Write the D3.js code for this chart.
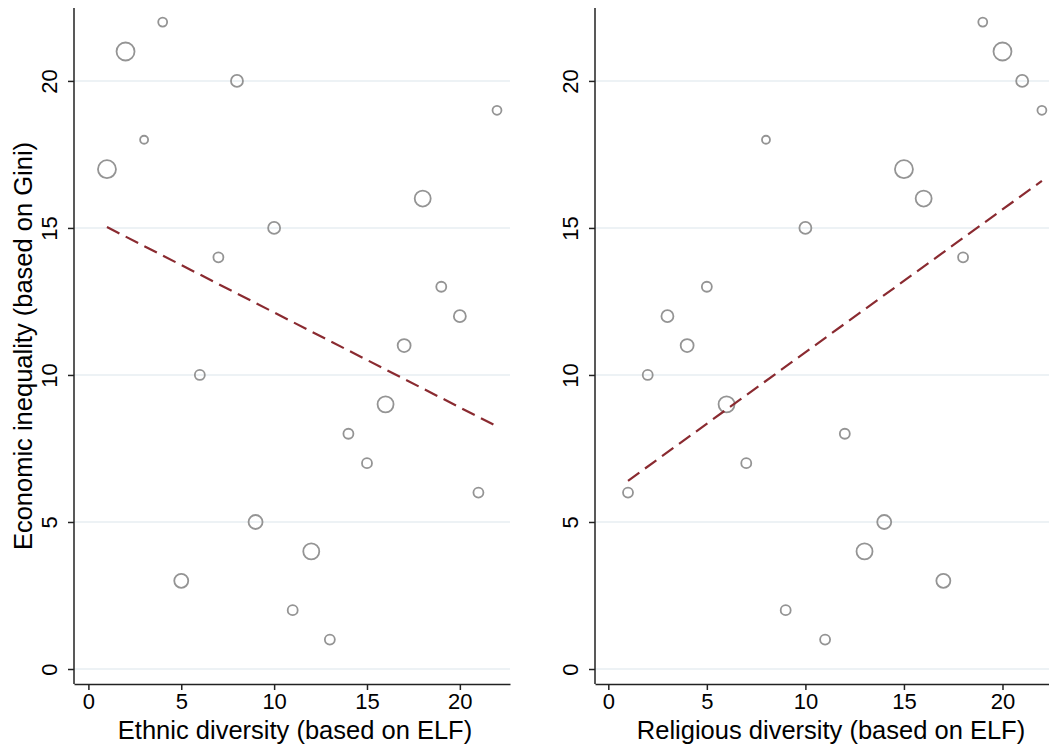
<!DOCTYPE html>
<html>
<head>
<meta charset="utf-8">
<script src="https://cdn.jsdelivr.net/npm/d3@7"></script>
<style>
  html, body { margin: 0; padding: 0; background: #fff; }
  svg { display: block; font-family: "Liberation Sans", Arial, sans-serif; }
</style>
</head>
<body>
<svg id="chart" width="1049" height="749"></svg>
<script>
// one entry per country, ordered by Gini rank
const gini      = [1, 2, 3, 4, 5, 6, 7, 8, 9, 10, 11, 12, 13, 14, 15, 16, 17, 18, 19, 20, 21, 22];
const ethnic    = [13, 11, 5, 12, 9, 21, 15, 14, 16, 6, 17, 20, 19, 7, 10, 18, 1, 3, 22, 8, 2, 4];
const religious = [11, 9, 17, 13, 14, 1, 7, 12, 6, 2, 4, 3, 5, 18, 10, 16, 15, 8, 22, 21, 20, 19];
const weight    = [25, 25, 49, 64, 49, 25, 25, 25, 64, 25, 42, 36, 25, 25, 36, 64, 81, 16, 20, 36, 81, 20];

// fitted line end points (x, yhat)
const ethnicFit    = [[1, 15.03], [22, 8.25]];
const religiousFit = [[1, 6.4], [22, 16.6]];

const xTicks = [0, 5, 10, 15, 20];
const yTicks = [0, 5, 10, 15, 20];

const svg = d3.select("#chart");

const y = d3.scaleLinear().domain([-0.51, 22.48]).range([684, 8]);
const r = d3.scaleSqrt().domain([0, 81]).range([0, 9]);

const panels = [
  { xs: ethnic, fit: ethnicFit, title: "Ethnic diversity (based on ELF)",
    range: [74, 510], domain: [-0.775, 22.7], titleX: 295 },
  { xs: religious, fit: religiousFit, title: "Religious diversity (based on ELF)",
    range: [595, 1049], domain: [-0.675, 22.36], titleX: 831 }
];

panels.forEach(p => {
  const x = d3.scaleLinear().domain(p.domain).range(p.range);
  const g = svg.append("g");

  // gridlines
  g.selectAll("line.grid")
    .data(yTicks)
    .enter()
    .append("line")
    .attr("class", "grid")
    .attr("x1", p.range[0])
    .attr("x2", p.range[1])
    .attr("y1", d => y(d))
    .attr("y2", d => y(d))
    .style("stroke", "#e7eef2")
    .style("stroke-width", 1.5);

  // y axis
  const yAxis = g.append("g")
    .attr("transform", `translate(${p.range[0]},0)`)
    .call(d3.axisLeft(y).tickValues(yTicks).tickSize(6).tickPadding(4).tickSizeOuter(0));
  yAxis.select(".domain").attr("d", `M0,${y.range()[0]}V${y.range()[1]}`);
  yAxis.selectAll("text")
    .attr("transform", "rotate(-90)")
    .attr("x", 0)
    .attr("y", -17)
    .attr("dy", 0)
    .style("text-anchor", "middle")
    .style("font-size", "22px")
    .style("fill", "#000");

  // x axis
  const xAxis = g.append("g")
    .attr("transform", `translate(0,${y.range()[0]})`)
    .call(d3.axisBottom(x).tickValues(xTicks).tickSize(6).tickPadding(3).tickSizeOuter(0));
  xAxis.selectAll("text")
    .style("font-size", "22px")
    .style("fill", "#000");

  [yAxis, xAxis].forEach(a => {
    a.select(".domain").style("stroke", "#222").style("stroke-width", 1.5);
    a.selectAll(".tick line").style("stroke", "#222").style("stroke-width", 1.5);
  });

  // points
  g.selectAll("circle")
    .data(gini.map((gv, i) => ({ x: p.xs[i], y: gv, w: weight[i] })))
    .enter()
    .append("circle")
    .attr("cx", d => x(d.x))
    .attr("cy", d => y(d.y))
    .attr("r", d => r(d.w))
    .style("fill", "none")
    .style("stroke", "#949494")
    .style("stroke-width", 1.8);

  // fitted line
  g.append("path")
    .datum(p.fit)
    .attr("d", d3.line().x(d => x(d[0])).y(d => y(d[1])))
    .style("fill", "none")
    .style("stroke", "#8a2a30")
    .style("stroke-width", 2.2)
    .style("stroke-dasharray", "14,7");

  // x title
  g.append("text")
    .attr("x", p.titleX)
    .attr("y", 739)
    .style("text-anchor", "middle")
    .style("font-size", "25.5px")
    .style("fill", "#000")
    .text(p.title);
});

// shared y title
svg.append("text")
  .attr("transform", `translate(32,${(y.range()[0] + y.range()[1]) / 2}) rotate(-90)`)
  .style("text-anchor", "middle")
  .style("font-size", "25.5px")
  .style("fill", "#000")
  .text("Economic inequality (based on Gini)");
</script>
</body>
</html>
